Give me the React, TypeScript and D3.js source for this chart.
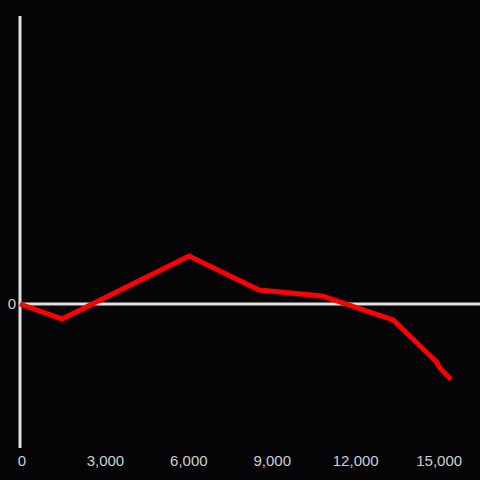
import React from "react";
import * as d3 from "d3";

const xValues = [0, 1510, 6080, 8600, 10860, 13420, 14980, 15100, 15500];
const yValues = [0, -0.104, 0.333, 0.097, 0.056, -0.111, -0.403, -0.444, -0.525];
const xTicks = [0, 3000, 6000, 9000, 12000, 15000];
const yTicks = [0];

export default function App() {
  const W = 480, H = 480;
  const x = d3.scaleLinear().domain([0, 16540]).range([20, 480]);
  const y = d3.scaleLinear().domain([-1, 2]).range([448, 16]);
  const pts = xValues.map((v, i) => [v, yValues[i]] as [number, number]);
  const line = d3.line<[number, number]>().x(d => x(d[0])).y(d => y(d[1]));
  const fmt = d3.format(",");
  return (
    <svg width={W} height={H} style={{ position: "absolute", left: 0, top: 0, background: "#050407" }}
      fontFamily="Liberation Sans, Arial, sans-serif">
      <rect x={0} y={0} width={W} height={H} fill="#050407" />
      <line x1={x(0)} x2={480} y1={y(0)} y2={y(0)} stroke="#e0e0e0" strokeWidth={3} />
      <line x1={x(0)} x2={x(0)} y1={16} y2={448} stroke="#e0e0e0" strokeWidth={3} />
      <path d={line(pts) ?? ""} fill="none" stroke="#ff0000" strokeWidth={5} strokeLinejoin="miter" />
      {xTicks.map(t => (
        <text key={t} x={x(t) + (t === 0 ? 2 : 2)} y={466} textAnchor="middle" fill="#cfcfcf" fontSize={15}>{fmt(t)}</text>
      ))}
      {yTicks.map(t => (
        <text key={t} x={16} y={y(t)} dy="0.35em" textAnchor="end" fill="#cfcfcf" fontSize={15}>{fmt(t)}</text>
      ))}
    </svg>
  );
}
